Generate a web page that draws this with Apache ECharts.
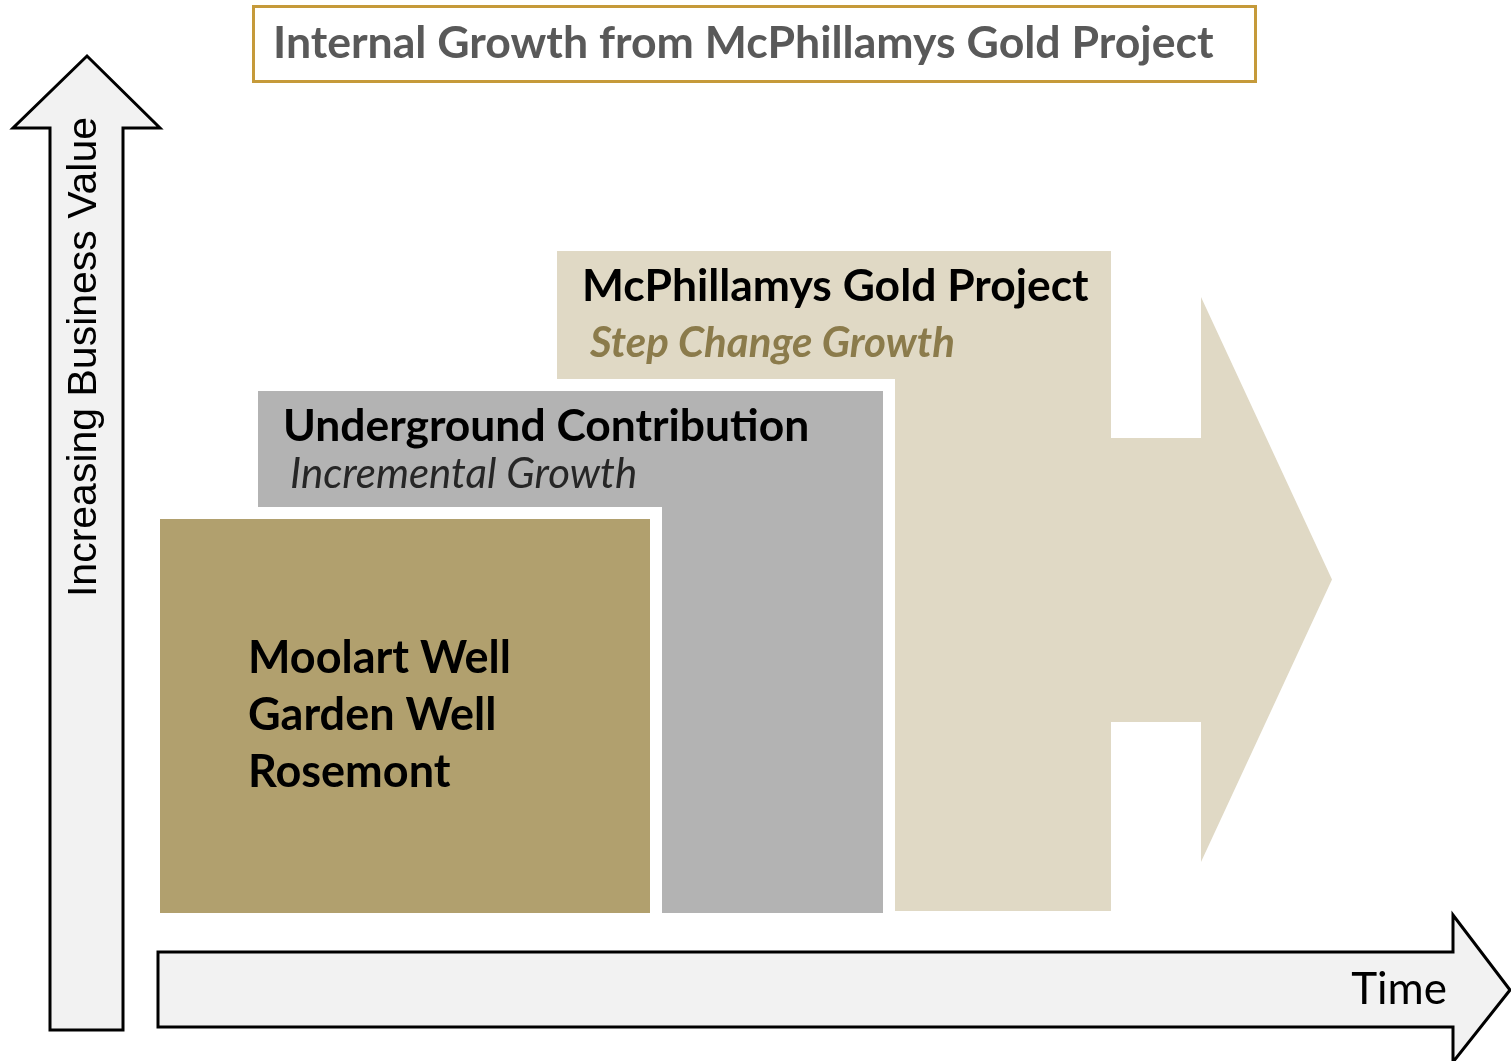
<!DOCTYPE html>
<html>
<head>
<meta charset="utf-8">
<title>Internal Growth from McPhillamys Gold Project</title>
<script src="https://cdn.jsdelivr.net/npm/echarts@6/dist/echarts.min.js"></script>
<style>
html,body{margin:0;padding:0;background:#fff;}
#main{width:1511px;height:1061px;}
</style>
</head>
<body>
<div id="main"></div>
<script>
// 图表数据（横轴=时间，纵轴=业务价值，单位与画布同比例）
var chartTitle = 'Internal Growth from McPhillamys Gold Project';
var axisNames = ['Time', 'Increasing Business Value'];

var stepTitles = ['Moolart Well\nGarden Well\nRosemont', 'Underground Contribution', 'McPhillamys Gold Project'];
var stepSubtitles = ['', 'Incremental Growth', 'Step Change Growth'];
var stepStart = [160, 258, 557];
var stepEnd = [650, 883, 1111];
var stepTop = [542, 670, 810];
var stepBase = [148, 148, 150];

// 增长箭头: 杆 / 头
var growthShaft = [1111, 1201, 339, 623];
var growthHead = [1201, 1332, 199, 764];

// 坐标箭头
var valueArrow = [[50, 31], [50, 933], [13, 933], [87, 1005], [160, 933], [123, 933], [123, 31]];
var timeArrow = [[158, 109], [1453, 109], [1453, 146], [1510, 71], [1453, -1], [1453, 34], [158, 34]];

var stepColors = ['#b1a06e', '#b3b3b3', '#e0d9c5'];
var FONT = 'Lato, "Open Sans", sans-serif';

var myChart = echarts.init(document.getElementById('main'));

function renderStep(params, api) {
	var i = api.value(0);
	var tl = api.coord([stepStart[i], stepTop[i]]);
	var br = api.coord([stepEnd[i], stepBase[i]]);
	var gap = 12;
	var children = [];
	// 白色间隔（前面的两块）
	if (i < 2) {
		children.push({
			type: 'rect',
			shape: {x: tl[0], y: tl[1] - gap, width: br[0] - tl[0] + gap, height: br[1] - tl[1] + gap},
			style: {fill: '#fff'}
		});
	}
	children.push({
		type: 'rect',
		shape: {x: tl[0], y: tl[1], width: br[0] - tl[0], height: br[1] - tl[1]},
		style: {fill: stepColors[i]}
	});
	if (i == 0) {
		children.push({
			type: 'text',
			style: {
				x: tl[0] + 88, y: tl[1] + 111, text: stepTitles[i],
				fontFamily: FONT, fontWeight: 'bold', fontSize: 45, lineHeight: 57,
				fill: '#000', verticalAlign: 'top'
			}
		});
	} else {
		children.push({
			type: 'text',
			style: {
				x: tl[0] + 25, y: tl[1] + 36, text: stepTitles[i],
				fontFamily: FONT, fontWeight: 'bold', fontSize: 44.4,
				fill: '#000', verticalAlign: 'middle'
			}
		});
		children.push({
			type: 'text',
			style: {
				x: tl[0] + (i == 2 ? 33 : 32), y: tl[1] + (i == 2 ? 92 : 83), text: stepSubtitles[i],
				fontFamily: FONT, fontStyle: 'italic', fontWeight: i == 2 ? 'bold' : 'normal', fontSize: 42,
				fill: i == 2 ? '#8b7b4b' : '#262626', verticalAlign: 'middle'
			}
		});
	}
	return {type: 'group', children: children};
}

function renderGrowthArrow(params, api) {
	var pts = [
		[growthShaft[0], growthShaft[3]],
		[growthShaft[1], growthShaft[3]],
		[growthHead[0], growthHead[3]],
		[growthHead[1], (growthHead[2] + growthHead[3]) / 2],
		[growthHead[0], growthHead[2]],
		[growthShaft[1], growthShaft[2]],
		[growthShaft[0], growthShaft[2]]
	].map(function (p) { return api.coord(p); });
	return {type: 'polygon', shape: {points: pts}, style: {fill: stepColors[2]}};
}

function renderAxisArrow(params, api) {
	var src = api.value(0) == 0 ? timeArrow : valueArrow;
	var pts = src.map(function (p) { return api.coord(p); });
	return {
		type: 'polygon',
		shape: {points: pts},
		style: {fill: '#f2f2f2', stroke: '#000', lineWidth: 3, lineJoin: 'miter'}
	};
}

var option = {
	animation: false,
	backgroundColor: '#fff',
	grid: {left: 0, right: 0, top: 0, bottom: 0},
	xAxis: {type: 'value', min: 0, max: 1511, show: false},
	yAxis: {type: 'value', min: 0, max: 1061, show: false},
	graphic: [
		{
			type: 'rect',
			shape: {x: 253.5, y: 6.5, width: 1002, height: 75},
			style: {fill: '#fff', stroke: '#c59a3a', lineWidth: 3}
		},
		{
			type: 'text',
			x: 273, y: 44,
			style: {text: chartTitle, fontFamily: FONT, fontWeight: 'bold', fontSize: 44.6, fill: '#595959', verticalAlign: 'middle'}
		},
		{
			type: 'text',
			x: 1447, y: 990, z: 10,
			style: {text: axisNames[0], fontFamily: FONT, fontSize: 44, fill: '#000', align: 'right', verticalAlign: 'middle'}
		},
		{
			type: 'text',
			x: 85, y: 357, rotation: Math.PI / 2, z: 10,
			style: {text: axisNames[1], fontFamily: '"Liberation Sans", Arial, sans-serif', fontSize: 41, fill: '#000', align: 'center', verticalAlign: 'middle'}
		}
	],
	series: [
		{
			type: 'custom',
			renderItem: renderAxisArrow,
			clip: false,
			data: [[0], [1]]
		},
		{
			type: 'custom',
			renderItem: renderGrowthArrow,
			data: [[0]]
		},
		{
			type: 'custom',
			renderItem: renderStep,
			data: [[2], [1], [0]]
		}
	]
};
myChart.setOption(option);
</script>
</body>
</html>
